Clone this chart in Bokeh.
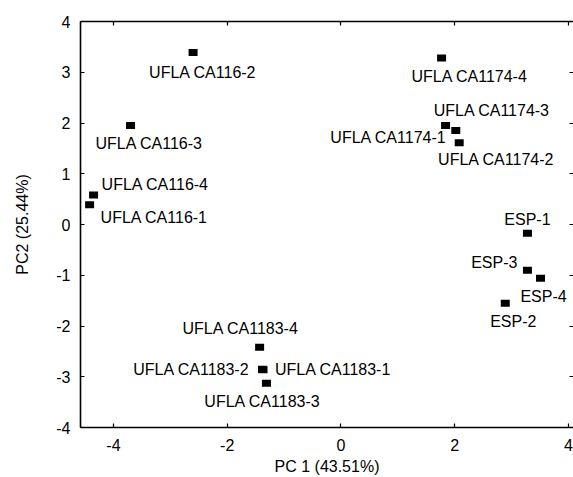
from bokeh.plotting import figure
from bokeh.models import LinearAxis, FixedTicker, Range1d, ColumnDataSource, CustomJSTickFormatter
from bokeh.embed import file_html
from bokeh.resources import INLINE
from bokeh.core.properties import value

# PCA scores of the samples
samples = ["UFLA CA116-1", "UFLA CA116-2", "UFLA CA116-3", "UFLA CA116-4",
           "UFLA CA1174-1", "UFLA CA1174-2", "UFLA CA1174-3", "UFLA CA1174-4",
           "UFLA CA1183-1", "UFLA CA1183-2", "UFLA CA1183-3", "UFLA CA1183-4",
           "ESP-1", "ESP-2", "ESP-3", "ESP-4"]
pc1 = [-4.42, -2.60, -3.70, -4.35,
       1.84, 2.08, 2.02, 1.77,
       -1.37, -1.38, -1.31, -1.43,
       3.28, 2.89, 3.28, 3.51]
pc2 = [0.39, 3.39, 1.95, 0.58,
       1.95, 1.61, 1.85, 3.28,
       -2.86, -2.85, -3.13, -2.42,
       -0.17, -1.55, -0.90, -1.06]

x_ticks = [-4, -2, 0, 2, 4]
y_ticks = [-4, -3, -2, -1, 0, 1, 2, 3, 4]
x_title = "PC 1 (43.51%)"
y_title = "PC2 (25.44%)"

# where each label sits relative to its marker (screen pixels) and its anchor
label_dx = [11, -44, -35, 8,
            1, 37, 36, 28,
            12, -13, -4, -19,
            0, 8, -10, 3]
label_dy = [13, 20, 18, -11,
            12, 17, -20, 18,
            0, 0, 18, -19,
            -14, 18, -8, 18]
label_align = ["left", "left", "left", "left",
               "right", "center", "center", "center",
               "left", "right", "center", "center",
               "center", "center", "right", "center"]

FONT = "Liberation Sans"
FS = "16px"

src = ColumnDataSource(dict(x=pc1, y=pc2, name=samples,
                            dx=label_dx, dy=label_dy, align=label_align))

p = figure(width=573, height=477, output_backend="svg", toolbar_location=None,
           x_range=Range1d(-4.58, 4.09), y_range=Range1d(-4, 4),
           x_axis_location=None, y_axis_location=None,
           min_border_left=80, min_border_top=21, min_border_right=0,
           min_border_bottom=10)
p.outline_line_color = None
p.xgrid.visible = False
p.ygrid.visible = False
p.background_fill_color = "white"
p.border_fill_color = "white"

# plain hyphen-minus for negative tick values
plain = CustomJSTickFormatter(code="return tick.toString()")
blank = CustomJSTickFormatter(code="return ''")


def style_axis(ax, ticks, labels=True):
    ax.ticker = FixedTicker(ticks=ticks)
    ax.major_tick_in = 4
    ax.major_tick_out = 0
    ax.minor_tick_line_color = None
    ax.major_tick_line_color = "black"
    ax.major_tick_line_width = 1.2
    ax.axis_line_color = "black"
    ax.axis_line_width = 1.6
    ax.major_label_text_font = FONT
    ax.major_label_text_font_size = FS
    ax.major_label_text_color = "black"
    ax.axis_label_text_font = FONT
    ax.axis_label_text_font_size = FS
    ax.axis_label_text_font_style = "normal"
    ax.axis_label_text_color = "black"
    if labels:
        ax.formatter = plain
        ax.major_label_standoff = 9
    else:
        ax.formatter = blank
        ax.major_label_standoff = 0


bottom = LinearAxis(axis_label=x_title)
style_axis(bottom, x_ticks)
bottom.major_label_standoff = 11
bottom.axis_label_standoff = 4
p.add_layout(bottom, "below")

left = LinearAxis(axis_label=y_title)
style_axis(left, y_ticks)
left.major_label_standoff = 10
left.axis_label_standoff = 22
p.add_layout(left, "left")

top = LinearAxis()
style_axis(top, x_ticks, labels=False)
p.add_layout(top, "above")

right = LinearAxis()
style_axis(right, y_ticks, labels=False)
right.axis_line_color = None
p.add_layout(right, "right")

# sample markers: small filled rectangles
p.rect(x="x", y="y", width=9, height=7, width_units="screen", height_units="screen",
       source=src, fill_color="black", line_color=None)

p.text(x="x", y="y", text="name", x_offset="dx", y_offset="dy", text_align="align",
       text_baseline="middle", text_font=value(FONT), text_font_size=FS,
       text_color="black", source=src)

open("out.html", "w").write(file_html(p, INLINE))
